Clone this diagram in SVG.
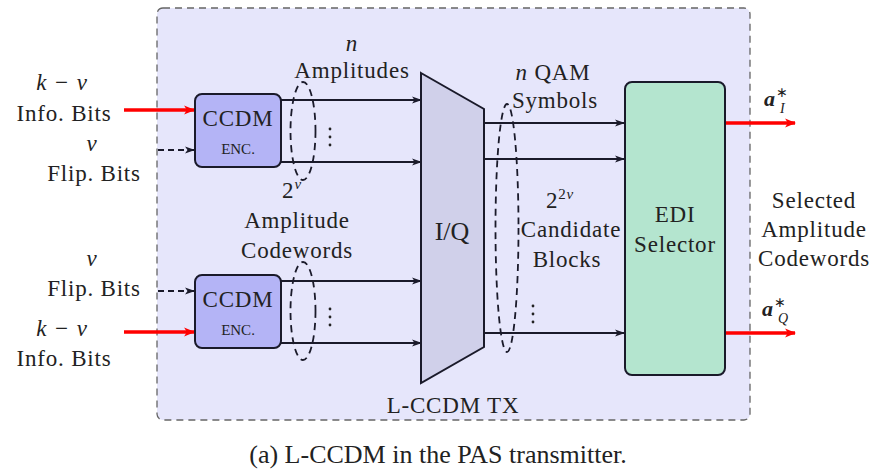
<svg xmlns="http://www.w3.org/2000/svg" width="876" height="472" viewBox="0 0 876 472">
<defs>
<style>
text{font-family:'Liberation Serif','Times New Roman',serif;fill:#222;}
.t{font-size:23px;text-anchor:middle;letter-spacing:0.8px;}
.it{font-style:italic;}
.blk{fill:none;stroke:#1a1a2a;stroke-width:2;}
.red{fill:none;stroke:#ff0000;stroke-width:3.5;}
.dsh{fill:none;stroke:#1a1a2a;stroke-width:2;stroke-dasharray:6,4;}
.ell{fill:none;stroke:#1a1a2a;stroke-width:1.8;stroke-dasharray:7,5;}
</style>
<marker id="ab" viewBox="0 0 10 10" refX="9" refY="5" markerWidth="10" markerHeight="10" markerUnits="userSpaceOnUse" orient="auto"><path d="M0,1.5 L10,5 L0,8.5 L2.5,5 Z" fill="#1a1a2a"/></marker>
<marker id="ar" viewBox="0 0 10 10" refX="9" refY="5" markerWidth="11" markerHeight="11" markerUnits="userSpaceOnUse" orient="auto"><path d="M0,1 L10,5 L0,9 L2.5,5 Z" fill="#ff0000"/></marker>
</defs>
<rect width="876" height="472" fill="#ffffff"/>
<g id="frame">
<rect x="157" y="8" width="593" height="412" rx="6" fill="#e6e6fb" stroke="#666" stroke-width="1.3" stroke-dasharray="7,5"/>
<text class="t" x="453" y="413">L-CCDM TX</text>
</g>
<g id="connectors">
<line class="red" x1="124" y1="110" x2="194" y2="110" marker-end="url(#ar)"/>
<line class="dsh" x1="158" y1="150" x2="194" y2="150" marker-end="url(#ab)"/>
<line class="dsh" x1="158" y1="291" x2="194" y2="291" marker-end="url(#ab)"/>
<line class="red" x1="124" y1="332" x2="194" y2="332" marker-end="url(#ar)"/>
<line class="blk" x1="281" y1="100" x2="421" y2="100" marker-end="url(#ab)"/>
<line class="blk" x1="281" y1="162" x2="421" y2="162" marker-end="url(#ab)"/>
<line class="blk" x1="281" y1="281" x2="421" y2="281" marker-end="url(#ab)"/>
<line class="blk" x1="281" y1="343" x2="421" y2="343" marker-end="url(#ab)"/>
<line class="blk" x1="484" y1="123" x2="624" y2="123" marker-end="url(#ab)"/>
<line class="blk" x1="484" y1="159" x2="624" y2="159" marker-end="url(#ab)"/>
<line class="blk" x1="484" y1="333" x2="624" y2="333" marker-end="url(#ab)"/>
<line class="red" x1="725" y1="123" x2="795" y2="123" marker-end="url(#ar)"/>
<line class="red" x1="725" y1="333" x2="795" y2="333" marker-end="url(#ar)"/>
<ellipse class="ell" cx="303" cy="131" rx="12.5" ry="49"/>
<ellipse class="ell" cx="303" cy="311" rx="12.5" ry="49"/>
<ellipse class="ell" cx="507" cy="228" rx="11.5" ry="124"/>
<g fill="#222"><circle cx="330" cy="129" r="1.4"/><circle cx="330" cy="137" r="1.4"/><circle cx="330" cy="145" r="1.4"/>
<circle cx="330" cy="309" r="1.4"/><circle cx="330" cy="317" r="1.4"/><circle cx="330" cy="325" r="1.4"/>
<circle cx="533" cy="306" r="1.4"/><circle cx="533" cy="314" r="1.4"/><circle cx="533" cy="322" r="1.4"/></g>
</g>
<g id="left-labels">
<text class="t it" x="62" y="90">k − v</text>
<text class="t" x="64" y="121">Info.  Bits</text>
<text class="t it" x="92" y="151">v</text>
<text class="t" x="94" y="181">Flip.  Bits</text>
<text class="t it" x="92" y="266">v</text>
<text class="t" x="94" y="296">Flip.  Bits</text>
<text class="t it" x="62" y="336">k − v</text>
<text class="t" x="64" y="366">Info.  Bits</text>
</g>
<g id="ccdm1">
<rect x="195" y="94" width="86" height="73" rx="7" fill="#b4b4f6" stroke="#1a1a2a" stroke-width="2"/>
<text class="t" x="238" y="126">CCDM</text>
<text x="238" y="154" style="font-size:15px;text-anchor:middle">ENC.</text>
</g>
<g id="ccdm2">
<rect x="195" y="275" width="86" height="73" rx="7" fill="#b4b4f6" stroke="#1a1a2a" stroke-width="2"/>
<text class="t" x="238" y="307">CCDM</text>
<text x="238" y="335" style="font-size:15px;text-anchor:middle">ENC.</text>
</g>
<g id="mid-labels">
<text class="t it" x="352" y="51">n</text>
<text class="t" x="352" y="78">Amplitudes</text>
<text class="t" x="292" y="198">2<tspan class="it" dy="-9" style="font-size:15px">v</tspan></text>
<text class="t" x="297" y="228">Amplitude</text>
<text class="t" x="297" y="258">Codewords</text>
</g>
<g id="iq">
<path d="M421,73 L484,109 L484,347 L421,383 Z" fill="#d0d0ea" stroke="#1a1a2a" stroke-width="2"/>
<text x="452" y="240" style="font-size:26px;text-anchor:middle">I/Q</text>
</g>
<g id="qam-labels">
<text class="t" x="553" y="80"><tspan class="it">n</tspan> QAM</text>
<text class="t" x="555" y="108">Symbols</text>
<text class="t" x="560" y="208">2<tspan dy="-9" style="font-size:15px">2<tspan class="it">v</tspan></tspan></text>
<text class="t" x="571" y="237">Candidate</text>
<text class="t" x="567" y="267">Blocks</text>
</g>
<g id="edi">
<rect x="625" y="82" width="100" height="293" rx="7" fill="#b4e5cf" stroke="#1a1a2a" stroke-width="2"/>
<text class="t" x="675" y="222">EDI</text>
<text class="t" x="675" y="252">Selector</text>
</g>
<g id="out-labels">
<text x="764" y="106" style="font-size:22px;font-weight:bold;font-style:italic">a<tspan dy="-9" dx="1" style="font-size:14px;font-weight:normal;font-style:normal">∗</tspan><tspan dy="16" dx="-8" style="font-size:14px;font-weight:normal">I</tspan></text>
<text x="762" y="316" style="font-size:22px;font-weight:bold;font-style:italic">a<tspan dy="-9" dx="1" style="font-size:14px;font-weight:normal;font-style:normal">∗</tspan><tspan dy="16" dx="-8" style="font-size:14px;font-weight:normal">Q</tspan></text>
<text class="t" x="814" y="208">Selected</text>
<text class="t" x="814" y="237">Amplitude</text>
<text class="t" x="814" y="266">Codewords</text>
</g>
<g id="caption">
<text x="438" y="463" style="font-size:26px;text-anchor:middle">(a) L-CCDM in the PAS transmitter.</text>
</g>
</svg>
